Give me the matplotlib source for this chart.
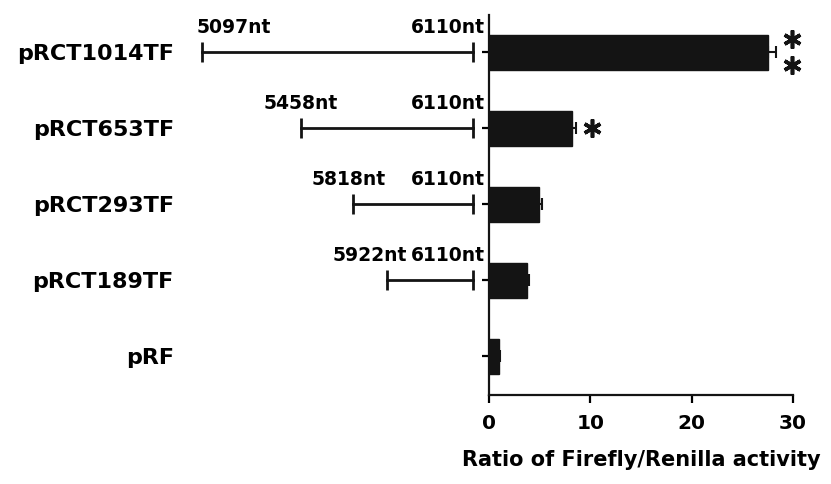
import numpy as np
import matplotlib.pyplot as plt

# Data
constructs = ["pRCT1014TF", "pRCT653TF", "pRCT293TF", "pRCT189TF", "pRF"]
ratio = [27.5, 8.2, 4.9, 3.7, 1.0]
ratio_err = [0.8, 0.4, 0.3, 0.2, 0.1]
start_nt = ["5097nt", "5458nt", "5818nt", "5922nt"]
end_nt = "6110nt"
significance = [2, 1, 0, 0, 0]   # number of asterisks

# Layout of the (not to scale) fragment diagram, in x-axis units left of 0
seg_start = [-28.3, -18.6, -13.4, -10.05]
seg_end = -1.58
label_center = [-25.2, -18.6, -13.9, -11.8]

plt.rcParams['font.family'] = ['DejaVu Sans']
plt.rcParams['font.weight'] = 'bold'

fig = plt.figure(figsize=(8.31, 4.84), dpi=100)
ax = fig.add_axes([0.5885, 0.1839, 0.3658, 0.785])

ypos = np.arange(len(constructs))[::-1]
dark = '#141414'

ax.barh(ypos, ratio, height=0.46, color=dark, edgecolor=dark, zorder=2)
ax.errorbar(ratio, ypos, xerr=[np.zeros(len(ratio)), ratio_err], fmt='none',
            ecolor=dark, elinewidth=1.5, capsize=4, capthick=1.5, zorder=3)

# significance stars
for i, n in enumerate(significance):
    if n == 0:
        continue
    xs = ratio[i] + ratio_err[i] + 1.6
    if n == 1:
        offs = [0.0]
    else:
        offs = [0.17, -0.17]
    for o in offs:
        ax.plot(xs, ypos[i] + o, marker=(6, 2, 0), markersize=13, mew=2.6,
                color=dark, clip_on=False, zorder=4)

# fragment diagram to the left of the axis
for i, lab in enumerate(start_nt):
    y = ypos[i]
    ax.plot([seg_start[i], seg_end], [y, y], color=dark, lw=2, clip_on=False)
    ax.plot([seg_start[i], seg_end], [y, y], ls='none', marker='|', markersize=15,
            mew=2, color=dark, clip_on=False)
    ax.text(label_center[i], y + 0.32, lab, ha='center', va='center',
            fontsize=13.5, fontweight='bold', clip_on=False)
    ax.text(-0.4, y + 0.32, end_nt, ha='right', va='center',
            fontsize=13.5, fontweight='bold', clip_on=False)

ax.set_xlim(0, 30)
ax.set_ylim(-0.51, 4.49)
ax.set_xticks([0, 10, 20, 30])
ax.set_yticks(ypos)
ax.set_yticklabels(constructs)

for s in ['top', 'right']:
    ax.spines[s].set_visible(False)
for s in ['left', 'bottom']:
    ax.spines[s].set_linewidth(1.6)
    ax.spines[s].set_color(dark)

ax.tick_params(axis='x', direction='out', length=6, width=1.6, labelsize=14.5, pad=8)
ax.tick_params(axis='y', direction='out', length=5, width=1.6, labelsize=16, pad=222)
for t in ax.get_xticklabels() + ax.get_yticklabels():
    t.set_fontweight('bold')

ax.set_xlabel("Ratio of Firefly/Renilla activity", fontsize=15, fontweight='bold', labelpad=12)

fig.savefig("out.png", dpi=100)
